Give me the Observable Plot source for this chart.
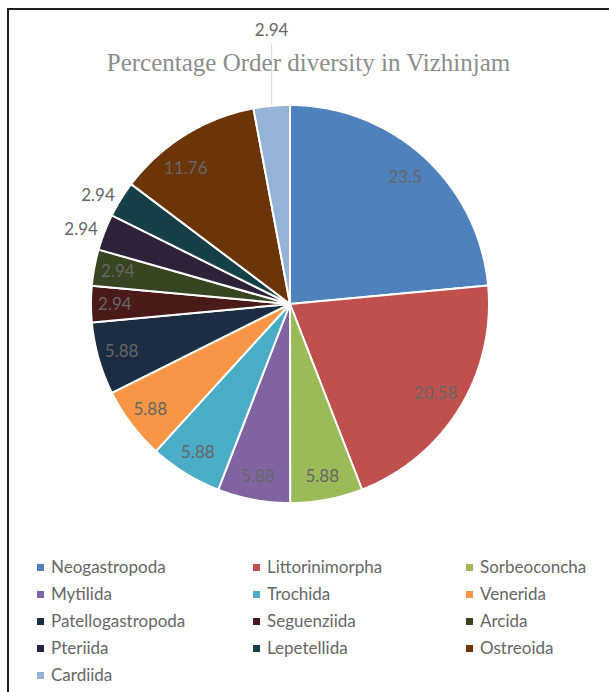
<!DOCTYPE html>
<html>
<head>
<meta charset="utf-8">
<script src="https://cdn.jsdelivr.net/npm/d3@7"></script>
<script src="https://cdn.jsdelivr.net/npm/@observablehq/plot@0.6"></script>
<style>
  body { margin: 0; background: #fff; }
  #wrap { position: relative; width: 609px; height: 692px; overflow: hidden; background: #fff; }
  #frame { position: absolute; left: 7px; top: 8px; width: 720px; height: 800px; border: 2px solid #1e1e1e; box-sizing: border-box; }
  #chart { position: absolute; left: 0; top: 0; }
  #title { position: absolute; left: 0; top: 50px; width: 617px; text-align: center;
           font-family: "Liberation Serif", "Times New Roman", serif; font-size: 25px; line-height: 25px; color: #8c8c8c; white-space: nowrap; }
  .leg { position: absolute; font-family: Lato, "Open Sans", sans-serif; font-size: 17px; color: #666666; line-height: 18px; white-space: nowrap; }
  .leg span.sw { display: inline-block; width: 7px; height: 7px; margin-right: 7px; vertical-align: 2px; }
</style>
</head>
<body>
<div id="wrap">
  <div id="frame"></div>
  <div id="chart"></div>
  <div id="title">Percentage Order diversity in Vizhinjam</div>
  <div id="legend"></div>
</div>
<script>
// ---- data ----
const orders = ["Neogastropoda","Littorinimorpha","Sorbeoconcha","Mytilida","Trochida","Venerida",
                "Patellogastropoda","Seguenziida","Arcida","Pteriida","Lepetellida","Ostreoida","Cardiida"];
const percents = [23.5, 20.58, 5.88, 5.88, 5.88, 5.88, 5.88, 2.94, 2.94, 2.94, 2.94, 11.76, 2.94];
const sliceColors = ["#4F81BD","#C0504D","#9BBB59","#8064A2","#4BACC6","#F79646",
                     "#1C2C43","#4A1A19","#384522","#2E2239","#173F48","#6B3507","#95B3D7"];

// ---- layout ----
const W = 609, H = 692;
const cx = 289.5, cy = 303.5, R = 199;

const pie = d3.pie().sort(null).value(d => d.value)(orders.map((name, i) => ({name, value: percents[i]})));

// slice polygons in unit coordinates (angle clockwise from 12 o'clock, y down)
const polys = [];
for (const s of pie) {
  const n = Math.max(2, Math.ceil((s.endAngle - s.startAngle) / (Math.PI / 360)));
  polys.push({name: s.data.name, x: 0, y: 0});
  for (let k = 0; k <= n; k++) {
    const a = s.startAngle + (s.endAngle - s.startAngle) * k / n;
    polys.push({name: s.data.name, x: Math.sin(a), y: -Math.cos(a)});
  }
  polys.push({name: s.data.name, x: 0, y: 0});
}

const inside = [], outsideLeft = [], outsideTop = [], leaders = [];
for (const s of pie) {
  const mid = (s.startAngle + s.endAngle) / 2;
  const deg = mid * 180 / Math.PI;
  const label = String(s.data.value);
  const small = s.data.value < 4 && deg > 285;
  if (!small) {
    const k = s.data.value > 10 ? 0.86 : 0.88;
    const a = s.data.value > 10 && deg > 300 ? mid - 0.1 : mid;
    inside.push({x: Math.sin(a) * k, y: -Math.cos(a) * k, label});
  } else if (deg > 340) {
    const ex = Math.sin(mid), ey = -Math.cos(mid);
    leaders.push({x1: ex, y1: ey, x2: ex, y2: -1.31});
    outsideTop.push({x: ex, y: -1.375, label});
  } else {
    const k = 1 + 7 / R;
    outsideLeft.push({x: Math.sin(mid) * k, y: -Math.cos(mid) * k, label});
  }
}

const font = "Lato, 'Open Sans', sans-serif";
const labelColor = "#666666";
const chart = Plot.plot({
  width: W, height: H, margin: 0,
  x: {domain: [-1, 1], range: [cx - R, cx + R], axis: null},
  y: {domain: [-1, 1], range: [cy - R, cy + R], axis: null},
  color: {domain: orders, range: sliceColors},
  style: {background: "transparent", overflow: "visible"},
  marks: [
    Plot.link(leaders, {x1: "x1", y1: "y1", x2: "x2", y2: "y2", stroke: "#d9d9d9", strokeWidth: 1}),
    Plot.line(polys, {x: "x", y: "y", z: "name", fill: "name", stroke: "white", strokeWidth: 2, strokeLinejoin: "miter"}),
    Plot.text(inside, {x: "x", y: "y", text: "label", fill: labelColor, fontSize: 17, fontFamily: font}),
    Plot.text(outsideLeft, {x: "x", y: "y", text: "label", fill: labelColor, fontSize: 17, fontFamily: font, textAnchor: "end"}),
    Plot.text(outsideTop, {x: "x", y: "y", text: "label", fill: labelColor, fontSize: 17, fontFamily: font})
  ]
});
document.getElementById("chart").appendChild(chart);

// legend
const legend = document.getElementById("legend");
const colX = [37, 253, 466];
orders.forEach((name, i) => {
  const el = document.createElement("div");
  el.className = "leg";
  el.style.left = colX[i % 3] + "px";
  el.style.top = (558 + Math.floor(i / 3) * 27) + "px";
  el.innerHTML = `<span class="sw" style="background:${sliceColors[i]}"></span>${name}`;
  legend.appendChild(el);
});
</script>
</body>
</html>
